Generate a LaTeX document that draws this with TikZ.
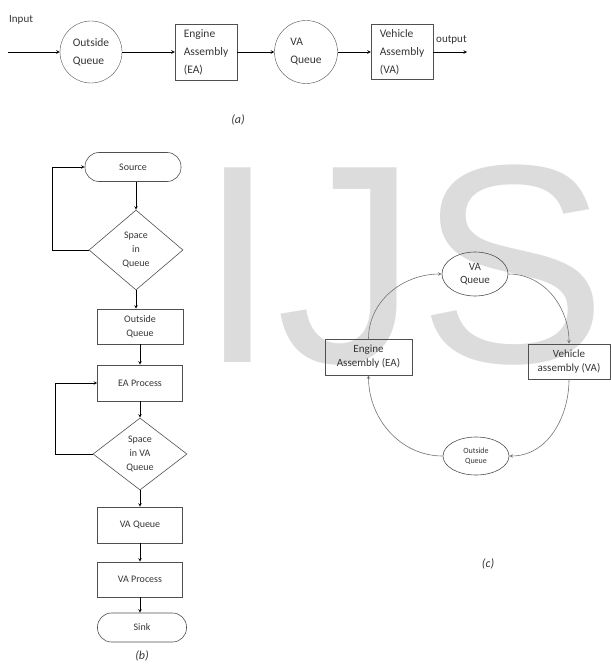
\documentclass[tikz,border=0pt]{standalone}
\usepackage{fontspec}
\setmainfont{Carlito}
\newfontfamily\wmfont{Liberation Sans}
\usetikzlibrary{shapes.geometric, arrows}
\definecolor{wmgray}{HTML}{DCDCDC}
\definecolor{linegray}{HTML}{505050}
\definecolor{txtgray}{HTML}{353535}
\tikzstyle{queue} = [
    circle,
    minimum size=62pt,
    inner sep=0pt,
    draw=linegray,
    text=txtgray,
    align=left,
    font=\fontsize{11.5}{18}\selectfont
]
\tikzstyle{station} = [
    rectangle,
    minimum width=62pt,
    minimum height=56pt,
    inner sep=0pt,
    draw=linegray,
    text=txtgray,
    align=left,
    font=\fontsize{11.5}{18}\selectfont
]
\tikzstyle{terminal} = [
    rectangle,
    rounded corners=14pt,
    minimum height=29pt,
    inner sep=0pt,
    semithick,
    draw=linegray,
    text=txtgray,
    font=\fontsize{10}{13}\selectfont
]
\tikzstyle{process} = [
    rectangle,
    minimum width=85pt,
    minimum height=36pt,
    inner sep=0pt,
    semithick,
    draw=linegray,
    text=txtgray,
    align=center,
    font=\fontsize{10}{13.5}\selectfont
]
\tikzstyle{decision} = [
    diamond,
    minimum width=94pt,
    inner sep=0pt,
    semithick,
    draw=linegray,
    text=txtgray,
    align=center,
    font=\fontsize{10}{14}\selectfont
]
\tikzstyle{cycbox} = [
    rectangle,
    minimum height=36pt,
    inner sep=0pt,
    semithick,
    draw=linegray,
    text=txtgray,
    align=center,
    font=\fontsize{11}{14}\selectfont
]
\tikzstyle{cycqueue} = [
    ellipse,
    minimum width=66pt,
    inner sep=0pt,
    semithick,
    draw=linegray,
    text=txtgray,
    align=center
]
\tikzstyle{caption} = [text=txtgray, font=\itshape\fontsize{12}{14}\selectfont]
\tikzstyle{arrow} = [semithick, ->, >=stealth, draw=black]
\tikzstyle{cycarrow} = [semithick, ->, >=stealth, draw=gray!90!black]

\begin{document}
\begin{tikzpicture}[x=1pt, y=1pt]
\useasboundingbox (0,0) rectangle (610,-666);

% watermark
\node[anchor=base west, inner sep=0pt, text=wmgray,
      font=\wmfont\fontsize{283}{283}\selectfont] (wm) at (198,-362) {IJS};

% (a) serial line
\node (input) [anchor=west, inner sep=1pt, text=txtgray,
               font=\fontsize{11}{13}\selectfont] at (8,-20) {Input};
\coordinate (in) at (8,-52);
\node (outq) [queue] at (91,-52) {Outside\\Queue};
\node (ea) [station, node distance=115pt, right of=outq] {Engine\\Assembly\\(EA)};
\node (vaq) [queue, minimum size=63pt, node distance=100pt, right of=ea] {VA\\Queue};
\node (va) [station, minimum height=55pt, node distance=96pt, right of=vaq] {Vehicle\\Assembly\\(VA)};
\coordinate (out) at (467,-52);
\node (output) [anchor=south west, inner sep=1pt, text=txtgray,
                font=\fontsize{11}{13}\selectfont] at (435,-45) {output};

\draw [arrow] (in) -- (outq);
\draw [arrow] (outq) -- (ea);
\draw [arrow] (ea) -- (vaq);
\draw [arrow] (vaq) -- (va);
\draw [arrow] (va) -- (out);

\node (capa) [caption] at (238,-120) {(a)};

% (b) flow chart
\node (source) [terminal, minimum width=96pt] at (133,-167) {Source};
\node (space1) [decision, minimum height=80pt, node distance=83pt, below of=source, xshift=3pt]
    {Space\\in\\Queue};
\node (outbox) [process, minimum width=86pt, minimum height=35pt, node distance=76.5pt,
                below of=space1, xshift=4pt] {Outside\\Queue};
\node (eaproc) [process, node distance=56.5pt, below of=outbox] {EA Process};
\node (space2) [decision, minimum height=72pt, node distance=71pt, below of=eaproc]
    {Space\\in VA\\Queue};
\node (vaqbox) [process, node distance=71pt, below of=space2] {VA Queue};
\node (vaproc) [process, minimum height=35pt, node distance=54.5pt, below of=vaqbox] {VA Process};
\node (sink) [terminal, minimum width=89pt, node distance=48pt, below of=vaproc, xshift=2pt] {Sink};

\draw [arrow] (space1.north |- source.south) -- (space1.north);
\draw [arrow] (space1.south) -- (space1.south |- outbox.north);
\draw [arrow] (space1.west) -- ++(-36,0) |- (source.west);
\draw [arrow] (outbox) -- (eaproc);
\draw [arrow] (eaproc) -- (space2);
\draw [arrow] (space2.west) -- ++(-37,0) |- (eaproc.west);
\draw [arrow] (space2) -- (vaqbox);
\draw [arrow] (vaqbox) -- (vaproc);
\draw [arrow] (vaproc.south) -- (vaproc.south |- sink.north);

\node (capb) [caption] at (142,-656) {(b)};

% (c) cycle
\node (cvaq) [cycqueue, minimum height=44pt, font=\fontsize{11}{13}\selectfont]
    at (475,-274) {VA\\Queue};
\node (cea) [cycbox, minimum width=87pt] at (368.5,-357) {Engine\\Assembly (EA)};
\node (cva) [cycbox, minimum width=82pt, minimum height=35pt] at (569,-361.5) {Vehicle\\assembly (VA)};
\node (coq) [cycqueue, minimum height=38pt, font=\fontsize{8}{10.5}\selectfont]
    at (476,-456) {Outside\\Queue};

\draw [cycarrow] (cea.north) to[out=90, in=180] (cvaq.west);
\draw [cycarrow] (cvaq.east) to[out=0, in=90] (cva.north);
\draw [cycarrow] (cva.south) to[out=-90, in=0] (coq.east);
\draw [cycarrow] (coq.west) to[out=180, in=-90] (cea.south);

\node (capc) [caption] at (488,-564) {(c)};

\end{tikzpicture}
\end{document}
